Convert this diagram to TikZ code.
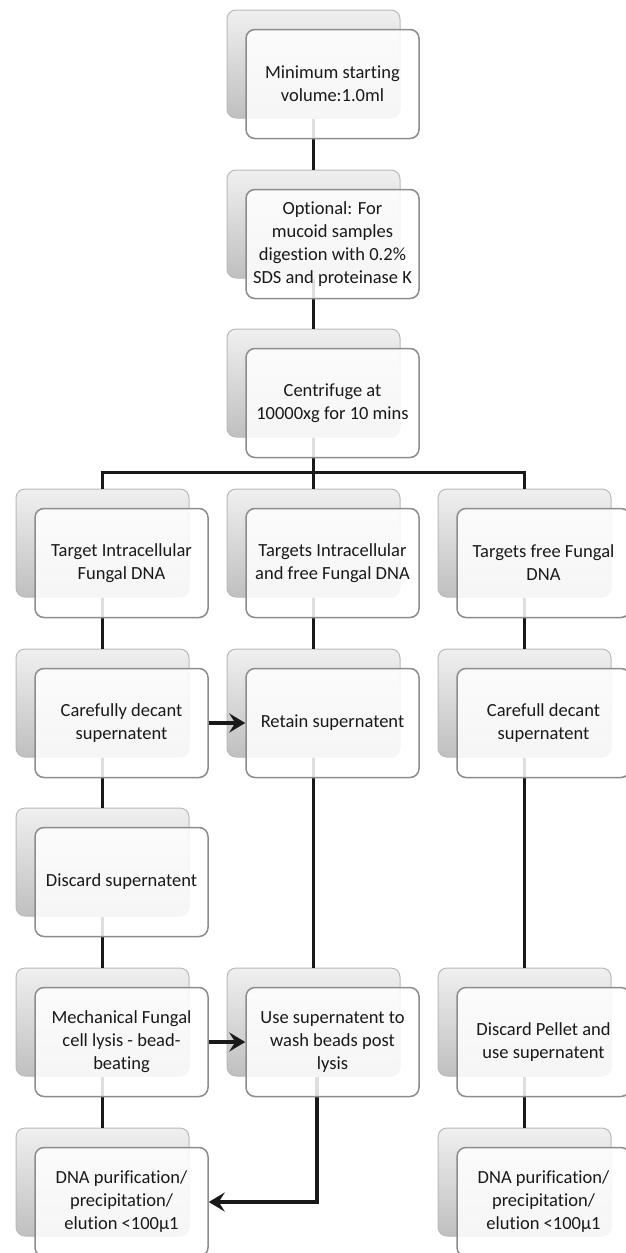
\documentclass[tikz,border=0pt]{standalone}
\usepackage{fontspec}
\setmainfont{Carlito}[Ligatures={NoCommon}]
\usetikzlibrary{arrows.meta,calc}
\pgfdeclarelayer{backl}
\pgfdeclarelayer{linesl}
\pgfsetlayers{backl,linesl,main}
\tikzset{
  backbox/.style={draw=gray!55, line width=1pt, rounded corners=9pt,
    minimum width=173pt, minimum height=108pt, inner sep=0pt,
    top color=gray!12, bottom color=gray!50},
  frontbox/.style={draw=black!45, line width=1.5pt, rounded corners=9pt,
    minimum width=173pt, minimum height=109pt, inner sep=2pt,
    fill=white, fill opacity=0.86, text opacity=1, align=center,
    text=black!90, font=\fontsize{18.5}{23}\selectfont},
  conn/.style={line width=3.6pt, black!90},
  arr/.style={conn, -{Stealth[length=16pt,width=19pt,inset=6pt]}}
}
\newcommand\mkpair[4]{%
  \begin{pgfonlayer}{backl}\node[backbox] (b#1) at (#2,#3) {};\end{pgfonlayer}
  \node[frontbox] (#1) at (#2+19,#3+20) {#4};}
\begin{document}
\begin{tikzpicture}[x=1pt,y=-1pt]
\useasboundingbox (0,0) rectangle (625,1253);
% top column
\mkpair{min}{313.5}{64}{Minimum starting\\volume:1.0ml}
\mkpair{opt}{313.5}{224}{Optional: For\\mucoid samples\\digestion with 0.2\%\\SDS and proteinase K}
\mkpair{cen}{313.5}{383}{Centrifuge at\\10000xg for 10 mins}
% row 1
\mkpair{tA}{102.5}{543}{Target Intracellular\\Fungal DNA}
\mkpair{tB}{313.5}{543}{Targets Intracellular\\and free Fungal DNA}
\mkpair{tC}{524.5}{543}{Targets free Fungal\\DNA}
% row 2
\mkpair{cdA}{102.5}{703}{Carefully decant\\supernatent}
\mkpair{ret}{313.5}{703}{Retain supernatent}
\mkpair{cdC}{524.5}{703}{Carefull decant\\supernatent}
% row 3
\mkpair{dis}{102.5}{862}{Discard supernatent}
% row 4
\mkpair{mech}{102.5}{1022}{Mechanical Fungal\\cell lysis - bead-\\beating}
\mkpair{use}{313.5}{1022}{Use supernatent to\\wash beads post\\lysis}
\mkpair{dp}{524.5}{1022}{Discard Pellet and\\use supernatent}
% row 5
\mkpair{dnaA}{102.5}{1182}{DNA purification/\\precipitation/\\elution <100μ1}
\mkpair{dnaC}{524.5}{1182}{DNA purification/\\precipitation/\\elution <100μ1}
% connectors
\begin{pgfonlayer}{linesl}
\draw[conn] (bmin.south) -- (bopt.north);
\draw[conn] (bopt.south) -- (bcen.north);
\draw[conn] (bcen.south) -- ($(bcen.south)+(0,35)$) coordinate (bus);
\draw[conn] (bus) -| (btA.north);
\draw[conn] (bus) -| (btC.north);
\draw[conn] (bus) -- (btB.north);
\draw[conn] (btA.south) -- (bcdA.north);
\draw[conn] (bcdA.south) -- (bdis.north);
\draw[conn] (bdis.south) -- (bmech.north);
\draw[conn] (bmech.south) -- (bdnaA.north);
\draw[conn] (btB.south) -- (bret.north);
\draw[conn] (bret.south) -- (buse.north);
\draw[conn] (btC.south) -- (bcdC.north);
\draw[conn] (bcdC.south) -- (bdp.north);
\draw[conn] (bdp.south) -- (bdnaC.north);
\draw[arr] ([xshift=3.5pt]buse.south) |- (dnaA.east);
\end{pgfonlayer}
\draw[arr] (cdA.east) -- (ret.west);
\draw[arr] (mech.east) -- (use.west);
\end{tikzpicture}
\end{document}
